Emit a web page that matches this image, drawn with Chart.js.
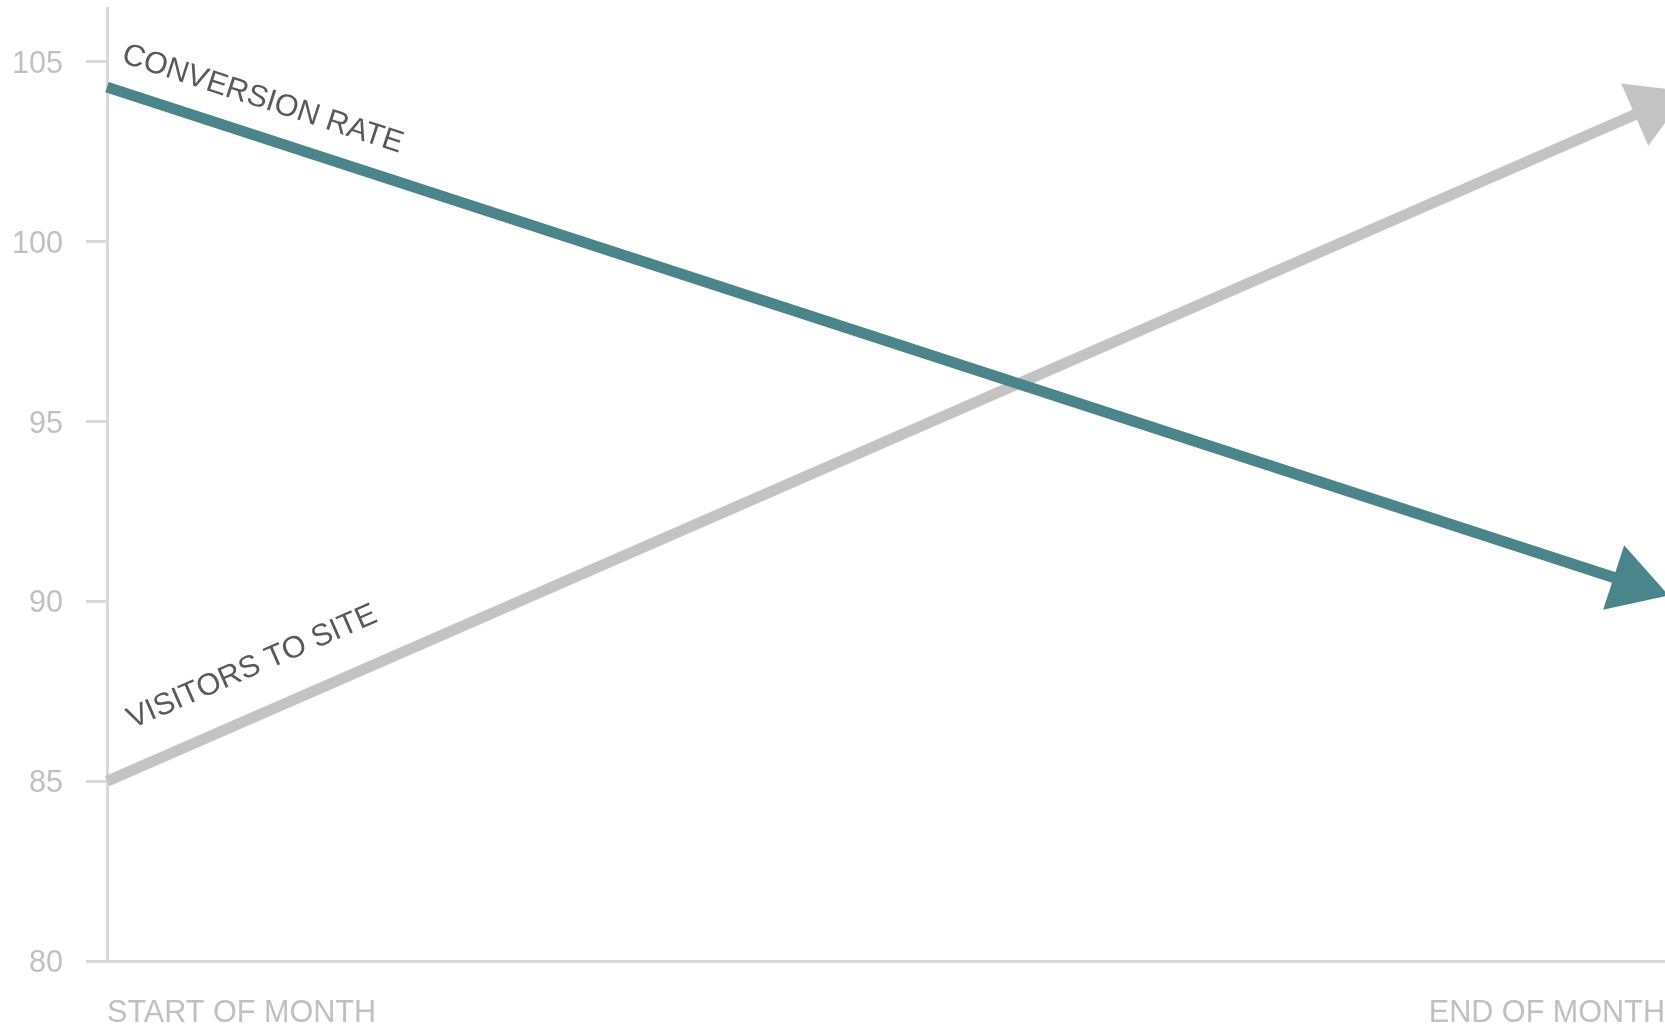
<!DOCTYPE html>
<html>
<head>
<meta charset="utf-8">
<script src="https://cdn.jsdelivr.net/npm/chart.js@4"></script>
<style>
  html, body { margin: 0; padding: 0; background: #fff; }
  #wrap { width: 1665px; height: 1028px; position: relative; }
</style>
</head>
<body>
<div id="wrap"><canvas id="trendChart"></canvas></div>
<script>
const periods = ["START OF MONTH", "END OF MONTH"];

const conversionRate = [104.3, 90.2];
const visitorsToSite = [85, 103.9];

const yTicks = [80, 85, 90, 95, 100, 105];

const FONT = '"Liberation Sans", Arial, Helvetica, sans-serif';

// arrow heads at the end of each line
const arrowHeads = {
    id: 'arrowHeads',
    afterDatasetsDraw(chart) {
        const ctx = chart.ctx;
        chart.data.datasets.forEach((ds, i) => {
            const pts = chart.getDatasetMeta(i).data;
            if (pts.length < 2) return;
            const a = pts[pts.length - 2], b = pts[pts.length - 1];
            const len = Math.hypot(b.x - a.x, b.y - a.y);
            const ux = (b.x - a.x) / len, uy = (b.y - a.y) / len;
            const tipX = b.x + ux * ds.arrowOverhang, tipY = b.y + uy * ds.arrowOverhang;
            const bx = tipX - ux * 58, by = tipY - uy * 58;
            const half = 34;
            ctx.save();
            ctx.fillStyle = ds.borderColor;
            ctx.beginPath();
            ctx.moveTo(tipX, tipY);
            ctx.lineTo(bx - uy * half, by + ux * half);
            ctx.lineTo(bx + uy * half, by - ux * half);
            ctx.closePath();
            ctx.fill();
            ctx.restore();
        });
    }
};

// series names written along the lines
const lineLabels = {
    id: 'lineLabels',
    afterDatasetsDraw(chart) {
        const ctx = chart.ctx;
        chart.data.datasets.forEach((ds, i) => {
            const pts = chart.getDatasetMeta(i).data;
            const a = pts[0], b = pts[1];
            const len = Math.hypot(b.x - a.x, b.y - a.y);
            const ux = (b.x - a.x) / len, uy = (b.y - a.y) / len;
            // normal pointing up
            let nx = uy, ny = -ux;
            if (ny > 0) { nx = -nx; ny = -ny; }
            const x = a.x + ux * ds.labelAlong + nx * ds.labelGap;
            const y = a.y + uy * ds.labelAlong + ny * ds.labelGap;
            ctx.save();
            ctx.translate(x, y);
            ctx.rotate(Math.atan2(uy, ux));
            ctx.font = '30.6px ' + FONT;
            ctx.fillStyle = '#595959';
            ctx.textAlign = 'left';
            ctx.textBaseline = 'alphabetic';
            ctx.fillText(ds.label, 0, 0);
            ctx.restore();
        });
    }
};

const ctx = document.getElementById('trendChart').getContext('2d');
new Chart(ctx, {
    type: 'line',
    data: {
        labels: periods,
        datasets: [{
            label: 'CONVERSION RATE',
            data: conversionRate,
            borderColor: '#4a858b',
            borderWidth: 11,
            borderCapStyle: 'butt',
            pointRadius: 0,
            tension: 0,
            clip: { left: 10, top: 20, right: -7, bottom: 20 },
            arrowOverhang: 4,
            labelAlong: 5,
            labelGap: 28
        }, {
            label: 'VISITORS TO SITE',
            data: visitorsToSite,
            borderColor: '#c4c3c3',
            borderWidth: 11,
            borderCapStyle: 'butt',
            pointRadius: 0,
            tension: 0,
            clip: { left: 10, top: 20, right: 10, bottom: 20 },
            arrowOverhang: 25,
            labelAlong: 44,
            labelGap: 38
        }]
    },
    options: {
        responsive: true,
        maintainAspectRatio: false,
        animation: false,
        layout: { padding: { top: 8, right: 0, bottom: 0, left: 0 } },
        plugins: {
            legend: { display: false },
            tooltip: { enabled: false }
        },
        scales: {
            x: {
                offset: false,
                grid: { display: false, drawTicks: false, tickLength: 0 },
                border: { display: true, color: '#d8d8d8', width: 3 },
                ticks: {
                    align: 'inner',
                    maxRotation: 0,
                    padding: 34,
                    color: '#c0c0c0',
                    font: { family: FONT, size: 30.6 }
                },
                afterFit(scale) {
                    scale.height = 67;
                    scale.paddingLeft = 0;
                    scale.paddingRight = 0;
                }
            },
            y: {
                min: 80,
                max: 106.5,
                afterBuildTicks(scale) {
                    scale.ticks = yTicks.map(v => ({ value: v }));
                },
                grid: {
                    drawOnChartArea: false,
                    drawTicks: true,
                    tickLength: 21,
                    color: '#d8d8d8',
                    lineWidth: 3
                },
                border: { display: true, color: '#d8d8d8', width: 3 },
                ticks: {
                    padding: 23,
                    labelOffset: 2.5,
                    color: '#c0c0c0',
                    font: { family: FONT, size: 30.6 }
                },
                afterFit(scale) {
                    scale.width = 107;
                    scale.paddingTop = 0;
                    scale.paddingBottom = 0;
                }
            }
        }
    },
    plugins: [arrowHeads, lineLabels]
});
</script>
</body>
</html>
